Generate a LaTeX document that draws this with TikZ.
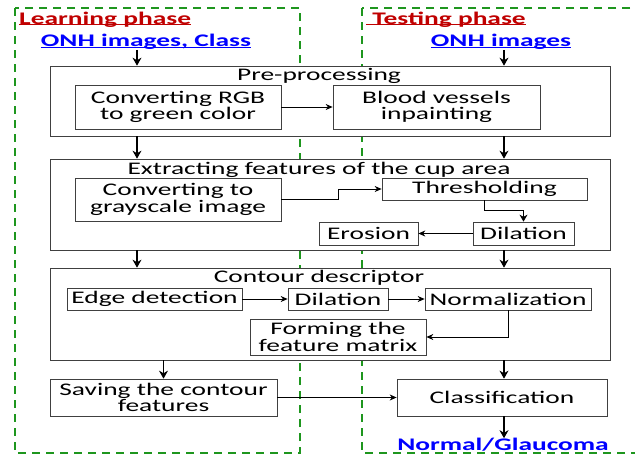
\documentclass[tikz,border=0pt]{standalone}
\usepackage{fontspec}
\setmainfont{Carlito}[FakeStretch=1.55]
\usepackage{amsmath}
\usetikzlibrary{arrows.meta}

\definecolor{phasered}{RGB}{192,0,0}
\definecolor{onhblue}{RGB}{0,0,255}
\definecolor{dashgreen}{RGB}{30,150,30}

% underline that cuts through the descenders
\newcommand{\phul}[1]{\setbox0\hbox{#1}\rlap{\rule[-1.4pt]{\wd0}{1.1pt}}\box0}

\begin{document}
\begin{tikzpicture}[x=1pt, y=-1pt,
	every node/.style={font=\fontsize{17.7}{16.5}\selectfont, inner sep=0pt},
	blk/.style={draw=black!75, line width=0.7pt, rectangle, fill=white, align=center},
	phasebox/.style={draw=dashgreen, line width=1.3pt, dash pattern=on 8pt off 6pt},
	phasetxt/.style={text=phasered, font=\fontsize{17.7}{16.5}\selectfont\bfseries, anchor=base west},
	onhtxt/.style={text=onhblue, font=\fontsize{17.7}{16.5}\selectfont\bfseries}]
				\useasboundingbox (0,0) rectangle (635,455);
				\draw[phasebox] (15,8) rectangle (300,453);
				\draw[phasebox] (362,8) rectangle (660,453);
				\node[phasetxt] (learn)at(19, 24) {\phul{Learning phase}};
				\node[phasetxt] (test)at(366, 24) {\phul{\ Testing phase}};
				\node[onhtxt] (onhL)at(146, 42) {\phul{ONH images, Class}};
				\node[onhtxt] (onhR)at(501, 42) {\phul{ONH images}};
				\coordinate (cL)at(137, 0);
				\coordinate (cR)at(504, 0);
				% pre-processing
				\node[blk, minimum width=560, minimum height=70] (pre)at(330, 101) {};
				\node (preT)at(319, 76) {Pre-processing};
				\node[blk, minimum width=206, minimum height=44] (rgb)at(178, 107) {Converting RGB\\to green color};
				\node[blk, minimum width=207, minimum height=44] (blood)at(436.5, 107) {Blood vessels\\inpainting};
				% cup area
				\node[blk, minimum width=560, minimum height=91] (ext)at(330, 204.5) {};
				\node (extT)at(319, 170) {Extracting features of the cup area};
				\node[blk, minimum width=206, minimum height=43] (gray)at(178, 199.5) {Converting to\\grayscale image};
				\node[blk, minimum width=205, minimum height=22] (thr)at(484.5, 189) {Thresholding};
				\node[blk, minimum width=101, minimum height=23] (dil)at(523.5, 233.5) {Dilation};
				\node[blk, minimum width=99, minimum height=23] (ero)at(368.5, 233.5) {Erosion};
				% contour descriptor
				\node[blk, minimum width=560, minimum height=92] (cont)at(330, 314) {};
				\node (contT)at(319, 278) {Contour descriptor};
				\node[blk, minimum width=175, minimum height=22] (edge)at(154.5, 299) {Edge detection};
				\node[blk, minimum width=100, minimum height=22] (dilb)at(338, 299) {Dilation};
				\node[blk, minimum width=166, minimum height=22] (norm)at(508, 299) {Normalization};
				\node[blk, minimum width=176, minimum height=36] (form)at(338, 337) {Forming the\\feature matrix};
				% last row
				\node[blk, minimum width=227, minimum height=37] (save)at(163.5, 397.5) {Saving the contour\\features};
				\node[blk, minimum width=210, minimum height=37] (cls)at(502, 397.5) {Classification};
				\node[onhtxt] (out)at(503, 445) {Normal/Glaucoma};
				% arrows between stages
				\draw[->, >={Stealth[length=8pt, width=9pt]}, line width=1.2pt] (onhL.south -| cL) -- (pre.north -| cL);
				\draw[->, >={Stealth[length=8pt, width=9pt]}, line width=1.2pt] (onhR.south -| cR) -- (pre.north -| cR);
				\draw[->, >={Stealth[length=8pt, width=9pt]}, line width=1.2pt] (pre.south -| cL) -- (ext.north -| cL);
				\draw[->, >={Stealth[length=8pt, width=9pt]}, line width=1.2pt] (pre.south -| cR) -- (ext.north -| cR);
				\draw[->, >={Stealth[length=8pt, width=9pt]}, line width=1.2pt] (ext.south -| cL) -- (cont.north -| cL);
				\draw[->, >={Stealth[length=8pt, width=9pt]}, line width=1.2pt] (ext.south -| cR) -- (cont.north -| cR);
				\draw[->, >={Stealth[length=8pt, width=9pt]}, line width=1.2pt] (cont.south -| save) -- (save.north);
				\draw[->, >={Stealth[length=8pt, width=9pt]}, line width=1.2pt] (cont.south -| cR) -- (cls.north -| cR);
				\draw[->, >={Stealth[length=8pt, width=9pt]}, line width=1.2pt] (cls.south -| cR) -- (out.north -| cR);
				% arrows inside the stages
				\draw[->, >={Stealth[length=7pt, width=6pt]}, line width=0.8pt] (rgb) -- (blood);
				\draw[->, >={Stealth[length=7pt, width=6pt]}, line width=0.8pt] (gray.east) -- ++(57, 0) |- (thr.west);
				\draw[->, >={Stealth[length=7pt, width=8pt]}, line width=0.9pt] (thr.south) -- ++(0, 10) -| (dil.north);
				\draw[->, >={Stealth[length=7pt, width=6pt]}, line width=0.8pt] (dil) -- (ero);
				\draw[->, >={Stealth[length=7pt, width=6pt]}, line width=0.8pt] (edge) -- (dilb);
				\draw[->, >={Stealth[length=7pt, width=6pt]}, line width=0.8pt] (dilb) -- (norm);
				\draw[->, >={Stealth[length=7pt, width=6pt]}, line width=0.8pt] (norm.south) |- (form.east);
				\draw[->, >={Stealth[length=7pt, width=6pt]}, line width=0.8pt] (save.east) -- (cls.west);
			\end{tikzpicture}
\end{document}
